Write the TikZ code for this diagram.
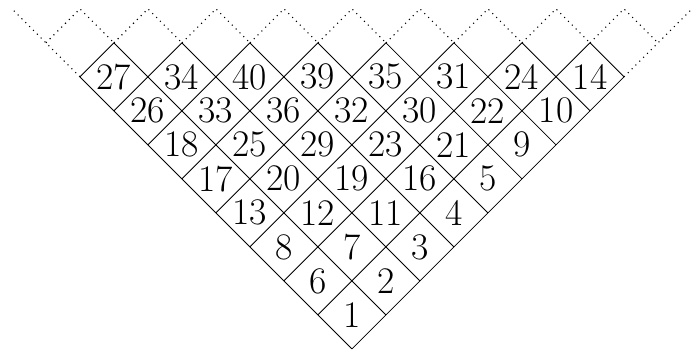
\documentclass[tikz,border=0pt]{standalone}
\usepackage{fontspec}
\usepackage{tikz}
\usetikzlibrary{calc}

\begin{document}
\begin{tikzpicture}[
  x=0.55cm, y=0.55cm,
  cellline/.style={line width=0.4pt},
  extline/.style={dotted, line width=0.5pt},
  every node/.style={font=\rmfamily\LARGE}
]
\useasboundingbox (-10.35,-0.03) rectangle (9.97,10.26);

% outer corners of the shape
\coordinate (bot) at (0,0);
\coordinate (lft) at (-8,8);
\coordinate (rgt) at (8,8);
\coordinate (lftend) at (-10,10);
\coordinate (rgtend) at (10,10);

% solid cell boundaries
\draw[cellline] (bot) -- (rgt);
\draw[cellline] (bot) -- (lft);
\foreach \k in {1,...,8} {
  \draw[cellline] (-\k,\k) -- ({9-2*\k},9);
  \draw[cellline] (\k,\k) -- ({2*\k-9},9);
}

% dotted continuation above the shape
\draw[extline] (lft) -- (lftend);
\draw[extline] (rgt) -- (rgtend);
\foreach \i in {0,...,8}
  \draw[extline] ({2*\i-9},9) -- ({2*\i-8},10) -- ({2*\i-7},9);

% entries: i/j/label
\foreach \i/\j/\n in {0/0/1,
    0/1/6, 1/0/2,
    0/2/8, 1/1/7, 2/0/3,
    0/3/13, 1/2/12, 2/1/11, 3/0/4,
    0/4/17, 1/3/20, 2/2/19, 3/1/16, 4/0/5,
    0/5/18, 1/4/25, 2/3/29, 3/2/23, 4/1/21, 5/0/9,
    0/6/26, 1/5/33, 2/4/36, 3/3/32, 4/2/30, 5/1/22, 6/0/10,
    0/7/27, 1/6/34, 2/5/40, 3/4/39, 4/3/35, 5/2/31, 6/1/24, 7/0/14}
  \node (c\i-\j) at ({\i-\j},{\i+\j+1}) {\n};
\end{tikzpicture}
\end{document}
